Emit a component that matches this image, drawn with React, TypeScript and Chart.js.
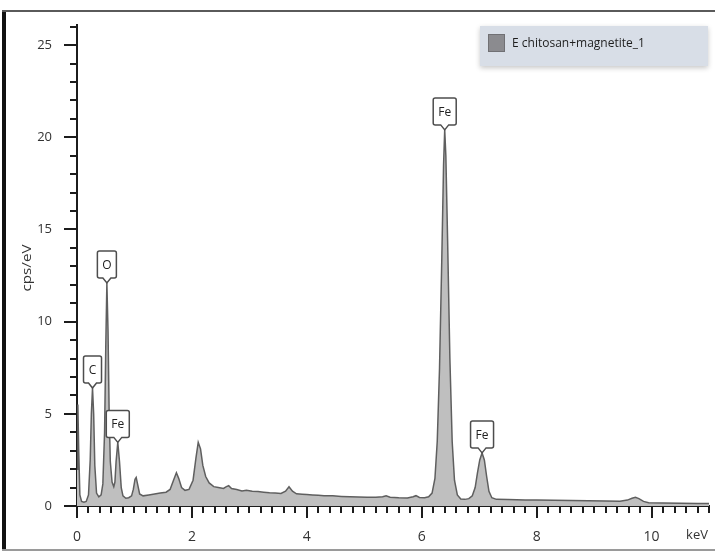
import React, { useEffect, useRef } from "react";
import { Chart, registerables } from "chart.js";

Chart.register(...registerables);

// EDS spectrum: energy (keV) and intensity (cps/eV)
const energyKeV = [
  0.0, 0.015, 0.03, 0.05, 0.08, 0.12, 0.16, 0.2, 0.23, 0.25, 0.27, 0.29, 0.31, 0.34, 0.38, 0.42,
  0.45, 0.48, 0.5, 0.52, 0.54, 0.56, 0.58, 0.61, 0.64, 0.66, 0.68, 0.71, 0.74, 0.77, 0.8, 0.85,
  0.9, 0.95, 0.98, 1.01, 1.03, 1.06, 1.09, 1.15, 1.25, 1.35, 1.45, 1.55, 1.62, 1.68, 1.73, 1.77,
  1.82, 1.88, 1.95, 2.02, 2.07, 2.11, 2.15, 2.19, 2.24, 2.3, 2.38, 2.46, 2.55, 2.6, 2.64, 2.69,
  2.78, 2.87, 2.95, 3.05, 3.15, 3.25, 3.35, 3.45, 3.55, 3.63, 3.69, 3.75, 3.82, 3.92, 4.0, 4.1,
  4.2, 4.3, 4.45, 4.6, 4.75, 4.9, 5.05, 5.2, 5.32, 5.38, 5.45, 5.6, 5.75, 5.85, 5.9, 5.96,
  6.05, 6.12, 6.18, 6.23, 6.27, 6.31, 6.35, 6.38, 6.4, 6.42, 6.45, 6.49, 6.53, 6.57, 6.62, 6.68,
  6.75, 6.82, 6.88, 6.93, 6.97, 7.01, 7.05, 7.09, 7.13, 7.17, 7.22, 7.3, 7.5, 7.8, 8.0, 8.3,
  8.6, 8.9, 9.2, 9.45, 9.58, 9.66, 9.72, 9.78, 9.86, 9.95, 10.2, 10.5, 10.8, 11.0,
];
const cpsPerEv = [
  2.0, 5.5, 3.0, 0.6, 0.25, 0.2, 0.25, 0.6, 2.5, 5.0, 6.4, 5.0, 2.2, 0.7, 0.5, 0.6,
  1.2, 4.0, 8.5, 12.1, 9.5, 5.0, 2.4, 1.3, 1.05, 1.3, 2.4, 3.45, 2.4, 1.0, 0.55, 0.42,
  0.45, 0.55, 0.9, 1.45, 1.55, 1.1, 0.65, 0.55, 0.6, 0.65, 0.7, 0.75, 0.9, 1.4, 1.8, 1.5,
  1.0, 0.85, 0.9, 1.4, 2.6, 3.45, 3.1, 2.2, 1.6, 1.25, 1.05, 1.0, 0.95, 1.05, 1.1, 0.95,
  0.9, 0.82, 0.85, 0.8, 0.78, 0.75, 0.72, 0.7, 0.68, 0.8, 1.04, 0.8, 0.66, 0.64, 0.62, 0.6,
  0.58, 0.56, 0.55, 0.52, 0.5, 0.49, 0.48, 0.47, 0.5, 0.56, 0.48, 0.45, 0.44, 0.5, 0.56, 0.46,
  0.45, 0.5, 0.7, 1.5, 3.5, 7.5, 13.5, 18.5, 20.4, 19.0, 14.5, 8.0, 3.5, 1.4, 0.6, 0.38,
  0.36, 0.4, 0.55, 1.0, 1.8, 2.5, 2.88, 2.5, 1.6, 0.8, 0.45, 0.36, 0.35, 0.33, 0.32, 0.31,
  0.3, 0.28, 0.27, 0.26, 0.32, 0.42, 0.47, 0.4, 0.25, 0.18, 0.16, 0.15, 0.14, 0.13,
];

// Identified lines (element and line energy in keV)
const peakElements = ["C", "O", "Fe", "Fe", "Fe"];
const peakEnergies = [0.27, 0.52, 0.71, 6.4, 7.05];

const seriesName = "E chitosan+magnetite_1";
const xAxisUnit = "keV";
const yAxisTitle = "cps/eV";

const FONT = '"Open Sans", "DejaVu Sans", sans-serif';

const decorations = {
  id: "edsDecorations",
  afterDraw(chart: any) {
    const { ctx } = chart;
    const xs = chart.scales.x;
    const ys = chart.scales.y;
    const area = chart.chartArea;

    ctx.save();

    // tick marks (major and minor, pointing outward)
    ctx.strokeStyle = "#1c1c1c";
    ctx.lineWidth = 2;
    for (let i = 0; i <= 55; i++) {
      const v = i * 0.2;
      const major = i % 10 === 0;
      const len = major ? 12 : 7;
      const px = Math.round(xs.getPixelForValue(v));
      ctx.beginPath();
      ctx.moveTo(px, area.bottom);
      ctx.lineTo(px, area.bottom + len);
      ctx.stroke();
    }
    for (let v = 0; v <= 26; v++) {
      const major = v % 5 === 0;
      const len = major ? 13 : 7;
      const py = Math.round(ys.getPixelForValue(v));
      ctx.beginPath();
      ctx.moveTo(area.left, py);
      ctx.lineTo(area.left - len, py);
      ctx.stroke();
    }

    // element callouts sitting on their peaks
    ctx.font = `12px ${FONT}`;
    peakElements.forEach((el, i) => {
      const e = peakEnergies[i];
      const idx = energyKeV.indexOf(e);
      const h = cpsPerEv[idx];
      const cx = xs.getPixelForValue(e);
      const tip = ys.getPixelForValue(h);
      const w = Math.round(ctx.measureText(el).width + 10);
      const bh = 27;
      const p = 5;
      const r = 2;
      const bottom = tip - p;
      const top = bottom - bh;
      const l = cx - w / 2;
      const rt = cx + w / 2;
      ctx.beginPath();
      ctx.moveTo(l + r, top);
      ctx.lineTo(rt - r, top);
      ctx.quadraticCurveTo(rt, top, rt, top + r);
      ctx.lineTo(rt, bottom - r);
      ctx.quadraticCurveTo(rt, bottom, rt - r, bottom);
      ctx.lineTo(cx + 4, bottom);
      ctx.lineTo(cx, tip);
      ctx.lineTo(cx - 4, bottom);
      ctx.lineTo(l + r, bottom);
      ctx.quadraticCurveTo(l, bottom, l, bottom - r);
      ctx.lineTo(l, top + r);
      ctx.quadraticCurveTo(l, top, l + r, top);
      ctx.closePath();
      ctx.fillStyle = "#ffffff";
      ctx.fill();
      ctx.strokeStyle = "#4d4d4d";
      ctx.lineWidth = 1.5;
      ctx.stroke();
      ctx.fillStyle = "#222222";
      ctx.textAlign = "center";
      ctx.textBaseline = "middle";
      ctx.fillText(el, cx, top + bh / 2 + 1);
    });

    // legend panel
    ctx.save();
    ctx.shadowColor = "rgba(0,0,0,0.22)";
    ctx.shadowBlur = 5;
    ctx.shadowOffsetY = 2;
    ctx.fillStyle = "#d8dee7";
    ctx.fillRect(480, 26, 228, 40);
    ctx.restore();
    ctx.fillStyle = "#8b8b8f";
    ctx.fillRect(488, 34, 17, 18);
    ctx.strokeStyle = "#707074";
    ctx.lineWidth = 1;
    ctx.strokeRect(488.5, 34.5, 16, 17);
    ctx.fillStyle = "#1e1e1e";
    ctx.font = `12px ${FONT}`;
    ctx.textAlign = "left";
    ctx.textBaseline = "middle";
    ctx.fillText(seriesName, 512, 44, 150);

    // unit at the end of the energy axis
    ctx.fillStyle = "#333333";
    ctx.font = `13px ${FONT}`;
    ctx.textAlign = "center";
    ctx.textBaseline = "middle";
    ctx.fillText(xAxisUnit, 697, 535);

    // vertical axis title
    ctx.save();
    ctx.translate(28, 268);
    ctx.rotate(-Math.PI / 2);
    ctx.font = `12px ${FONT}`;
    const tw = ctx.measureText(yAxisTitle).width;
    ctx.scale(47 / tw, 1);
    ctx.fillStyle = "#333333";
    ctx.textAlign = "center";
    ctx.textBaseline = "middle";
    ctx.fillText(yAxisTitle, 0, 0);
    ctx.restore();

    // outer frame
    ctx.fillStyle = "#111111";
    ctx.fillRect(2, 10, 4, 541);
    ctx.fillStyle = "#5a5a5a";
    ctx.fillRect(2, 10, 713, 2);
    ctx.fillStyle = "#9a9a9a";
    ctx.fillRect(2, 549, 713, 2);

    ctx.restore();
  },
};

export default function App() {
  const canvasRef = useRef<HTMLCanvasElement | null>(null);

  useEffect(() => {
    if (!canvasRef.current) return;
    const points = energyKeV.map((e, i) => ({ x: e, y: cpsPerEv[i] }));
    const chart = new Chart(canvasRef.current, {
      type: "line",
      data: {
        datasets: [
          {
            label: seriesName,
            data: points,
            borderColor: "#5f5f5f",
            borderWidth: 1.5,
            backgroundColor: "#bfbfbf",
            fill: "origin",
            pointRadius: 0,
            tension: 0,
          },
        ],
      },
      options: {
        responsive: false,
        animation: false,
        layout: { padding: { top: 23, right: 6, left: 0, bottom: 0 } },
        plugins: {
          legend: { display: false },
          tooltip: { enabled: false },
        },
        scales: {
          x: {
            type: "linear",
            min: 0,
            max: 11,
            grid: { display: false },
            border: { display: true, color: "#1c1c1c", width: 2 },
            ticks: {
              stepSize: 2,
              includeBounds: false,
              padding: 15,
              color: "#333333",
              font: { family: FONT, size: 14 },
              maxRotation: 0,
            },
            afterFit: (scale: any) => {
              scale.height = 48;
            },
          },
          y: {
            type: "linear",
            min: 0,
            max: 26.1,
            grid: { display: false },
            border: { display: true, color: "#1c1c1c", width: 2 },
            ticks: {
              stepSize: 5,
              includeBounds: false,
              padding: 17,
              color: "#333333",
              font: { family: FONT, size: 13 },
            },
            afterFit: (scale: any) => {
              scale.width = 77;
            },
          },
        },
      },
      plugins: [decorations],
    });
    return () => chart.destroy();
  }, []);

  return (
    <div style={{ position: "fixed", left: 0, top: 0, width: 715, height: 554, background: "#ffffff" }}>
      <canvas ref={canvasRef} width={715} height={554} style={{ display: "block" }} />
    </div>
  );
}
